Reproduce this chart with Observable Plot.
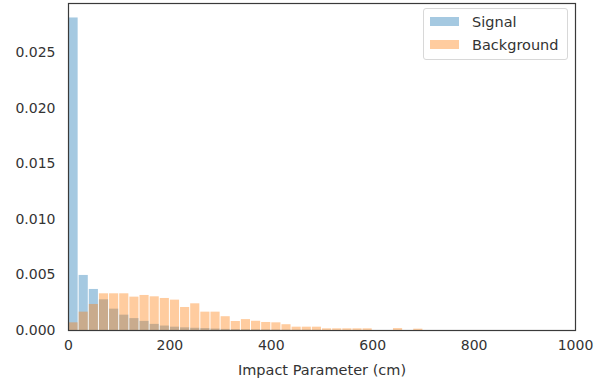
<!DOCTYPE html>
<html>
<head>
<meta charset="utf-8">
<script src="https://cdn.jsdelivr.net/npm/d3@7"></script>
<script src="https://cdn.jsdelivr.net/npm/@observablehq/plot@0.6"></script>
<style>
  html, body { margin: 0; padding: 0; background: #fff; }
  #wrap { position: relative; width: 599px; height: 381px; font-family: "DejaVu Sans", sans-serif; }
  #legend { position: absolute; left: 423px; top: 8px; width: 143px; height: 50px; border: 1px solid #d8d8d8; border-radius: 3px; background: rgba(255,255,255,0.8); font-size: 14.5px; color: #333; }
  .item { position: absolute; left: 6px; height: 17px; display: flex; align-items: center; }
  .sw { width: 29px; height: 9px; margin-right: 13px; }
</style>
</head>
<body>
<div id="wrap"></div>
<script>
// Histogram bin edges (Impact Parameter, cm)
const binEdges = [0,20,40,60,80,100,120,140,160,180,200,220,240,260,280,300,320,340,360,380,400,420,440,460,480,500,520,540,560,580,600,620,640,660,680,700,720,740,760,780,800,820,840,860,880,900,920,940,960,980,1000];
// Density per bin
const signalValues = [0.0281,0.00495,0.00369,0.00276,0.00192,0.00138,0.00107,0.00082,0.00055,0.0004,0.0003,0.00024,0.0002,0.00017,0.00013,0.0001,0.00008,0.00007,0.00006,0.00005,0.00004,0.00003,0.00002,0.00002,0.00001,0,0,0,0,0,0,0,0,0,0,0,0,0,0,0,0,0,0,0,0,0,0,0,0,0];
const backgroundValues = [0.00069,0.00165,0.00234,0.0033,0.0033,0.0033,0.003,0.00315,0.00303,0.00288,0.00273,0.00207,0.0024,0.00165,0.00165,0.00124,0.00081,0.00098,0.00083,0.00072,0.00069,0.00052,0.0003,0.0003,0.0003,0.00015,0.00015,0.00015,0.00015,0.00015,0,0,0.00017,0,0.00012,0,0,0,0,0,0,0,0,0,0,0,0,0,0,0];
const seriesNames = ["Signal", "Background"];
const seriesColors = ["#1f77b4", "#ff7f0e"];
const xTicks = [0, 200, 400, 600, 800, 1000];
const yTicks = [0, 0.005, 0.01, 0.015, 0.02, 0.025];

const toRows = vals => vals.map((v, i) => ({x1: binEdges[i], x2: binEdges[i + 1], y: v}));
const sig = toRows(signalValues);
const bg = toRows(backgroundValues);

const chart = Plot.plot({
  width: 599,
  height: 381,
  marginLeft: 68,
  marginRight: 24,
  marginTop: 3,
  marginBottom: 51,
  style: {fontFamily: "DejaVu Sans, sans-serif", fontSize: "14px", color: "#333", background: "#fff"},
  x: {domain: [0, 1000]},
  y: {domain: [0, 0.0294]},
  marks: [
    Plot.rectY(sig, {x1: "x1", x2: "x2", y: "y", fill: seriesColors[0], fillOpacity: 0.4, insetLeft: 0.5, insetRight: 0.5}),
    Plot.rectY(bg, {x1: "x1", x2: "x2", y: "y", fill: seriesColors[1], fillOpacity: 0.4, insetLeft: 0.5, insetRight: 0.5}),
    Plot.axisX({ticks: xTicks, tickSize: 0, tickPadding: 10, tickFormat: d3.format("d"), label: null, fontSize: 14}),
    Plot.axisX({ticks: [], tickSize: 0, label: "Impact Parameter (cm)", labelAnchor: "center", labelArrow: "none", labelOffset: 44, fontSize: 14.5}),
    Plot.axisY({ticks: yTicks, tickSize: 0, tickPadding: 13, tickFormat: d3.format(".3f"), label: null, fontSize: 14}),
    Plot.frame({stroke: "#3a3a3a", strokeWidth: 1.2})
  ]
});

const wrap = document.getElementById("wrap");
wrap.appendChild(chart);
const legend = document.createElement("div");
legend.id = "legend";
seriesNames.forEach((name, i) => {
  const item = document.createElement("div");
  item.className = "item";
  item.style.top = (4 + i * 23) + "px";
  const sw = document.createElement("div");
  sw.className = "sw";
  sw.style.background = seriesColors[i];
  sw.style.opacity = 0.4;
  const t = document.createElement("span");
  t.textContent = name;
  item.appendChild(sw);
  item.appendChild(t);
  legend.appendChild(item);
});
wrap.appendChild(legend);
</script>
</body>
</html>
